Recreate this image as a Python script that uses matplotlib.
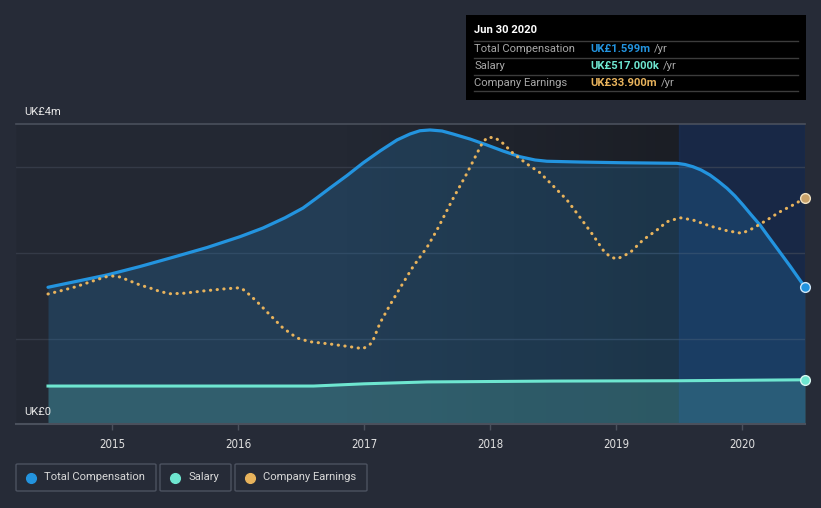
import numpy as np
import matplotlib
matplotlib.use("Agg")
import matplotlib.pyplot as plt
from matplotlib.colors import LinearSegmentedColormap
from matplotlib.patches import Rectangle, FancyBboxPatch

plt.rcParams["font.family"] = ["Roboto", "DejaVu Sans"]

# Total compensation (UK£m)
comp_t = [2014.492, 2014.746, 2014.960, 2015.222, 2015.484, 2015.754, 2016.016, 2016.198,
          2016.373, 2016.516, 2016.619, 2016.730, 2016.865, 2016.992, 2017.127, 2017.262,
          2017.365, 2017.444, 2017.524, 2017.619, 2017.706, 2017.841, 2017.976, 2018.103,
          2018.238, 2018.357, 2018.452, 2018.714, 2019.032, 2019.484, 2019.548, 2019.611,
          2019.675, 2019.746, 2019.810, 2019.881, 2019.944, 2020.008, 2020.071, 2020.143,
          2020.206, 2020.278, 2020.381, 2020.500]
comp_v = [1.599, 1.677, 1.743, 1.842, 1.950, 2.064, 2.191, 2.292,
          2.412, 2.526, 2.637, 2.760, 2.906, 3.053, 3.193, 3.322,
          3.392, 3.430, 3.439, 3.427, 3.392, 3.333, 3.263, 3.193,
          3.126, 3.088, 3.073, 3.064, 3.056, 3.049, 3.035, 3.009,
          2.971, 2.912, 2.842, 2.757, 2.667, 2.561, 2.450, 2.327,
          2.199, 2.055, 1.848, 1.599]

# Salary (UK£m)
sal_t = [2014.492, 2016.600, 2017.000, 2017.500, 2018.500, 2019.500, 2020.500]
sal_v = [0.444, 0.444, 0.470, 0.492, 0.502, 0.506, 0.517]

# Company earnings (UK£m), own scale
earn_t = [2014.492, 2014.587, 2014.706, 2014.825, 2014.944, 2015.000, 2015.063, 2015.143,
          2015.222, 2015.302, 2015.381, 2015.460, 2015.563, 2015.722, 2015.881, 2016.016,
          2016.056, 2016.151, 2016.254, 2016.357, 2016.468, 2016.571, 2016.730, 2016.889,
          2016.992, 2017.063, 2017.127, 2017.206, 2017.286, 2017.389, 2017.500, 2017.579,
          2017.706, 2017.817, 2017.897, 2017.944, 2017.984, 2018.040, 2018.103, 2018.183,
          2018.294, 2018.397, 2018.500, 2018.611, 2018.714, 2018.817, 2018.897, 2018.952,
          2019.008, 2019.111, 2019.214, 2019.325, 2019.405, 2019.508, 2019.611, 2019.746,
          2019.881, 2020.000, 2020.087, 2020.198, 2020.302, 2020.405, 2020.500]
earn_v = [19.50, 19.95, 20.55, 21.30, 22.05, 22.20, 22.05, 21.45,
          20.85, 20.40, 19.87, 19.54, 19.60, 19.95, 20.25, 20.44,
          19.99, 18.34, 16.35, 14.40, 12.90, 12.34, 12.00, 11.59,
          11.29, 12.15, 15.15, 17.85, 20.40, 23.59, 26.50, 29.10,
          33.79, 37.60, 40.60, 42.34, 43.00, 42.94, 42.10, 40.60,
          39.00, 37.69, 35.74, 33.60, 31.00, 28.35, 26.10, 25.09,
          24.75, 25.69, 27.60, 29.10, 30.34, 30.94, 30.60, 29.70,
          28.99, 28.60, 29.35, 30.60, 31.84, 32.85, 33.90]

years = [2015, 2016, 2017, 2018, 2019, 2020]

BG = "#262b37"
BLUE = "#2394df"
TEAL = "#6ee6d0"
ORANGE = "#e8b35c"
FS = 8.1
W, H = 821, 508

fig = plt.figure(figsize=(W / 100, H / 100), dpi=100, facecolor=BG)
ax = fig.add_axes([16 / W, 84 / H, 789 / W, 300 / H])
ax.set_facecolor("#232833")

x0, x1 = 2014.238, 2020.5
ymax = 300 / 85.5

# background gets darker towards the right
bg_cmap = LinearSegmentedColormap.from_list("bg", ["#242934", "#232833", "#1b1e25"])
ax.imshow(np.linspace(0, 1, 256).reshape(1, -1), extent=[x0, 2019.5, 0, ymax],
          cmap=bg_cmap, aspect="auto", zorder=0)
ax.axvspan(2019.5, x1, color="#17233a", zorder=0.5)

for g in [1, 2, 3]:
    ax.axhline(g, color="#343a47", lw=1, zorder=1)

ax.fill_between(comp_t, comp_v, 0, color=BLUE, alpha=0.2, lw=0, zorder=2)
ax.fill_between(sal_t, sal_v, 0, color=TEAL, alpha=0.2, lw=0, zorder=2.1)
ax.axvspan(2019.5, x1, color="#2a6fd6", alpha=0.08, zorder=2.2)

ax.plot(comp_t, comp_v, color=BLUE, lw=2.3, zorder=4, solid_capstyle="round")
ax.plot(sal_t, sal_v, color=TEAL, lw=2.2, zorder=4)
ax.plot(comp_t[-1], comp_v[-1], "o", ms=7, color=BLUE, mec="#cfe6f7", mew=1, zorder=6, clip_on=False)
ax.plot(sal_t[-1], sal_v[-1], "o", ms=7, color=TEAL, mec="#d8f7f1", mew=1, zorder=6, clip_on=False)

ax.set_xlim(x0, x1)
ax.set_ylim(0, ymax)

ax2 = ax.twinx()
ax2.set_ylim(0, 45)
ax2.plot(earn_t, earn_v, color=ORANGE, lw=2.2, linestyle=(0, (0.1, 2.1)),
         dash_capstyle="round", zorder=5)
ax2.plot(earn_t[-1], earn_v[-1], "o", ms=7, color="#c9a26a", mec="#f0e0c0", mew=1,
         zorder=6, clip_on=False)
ax2.set_yticks([])
for a in (ax, ax2):
    for s in a.spines.values():
        s.set_visible(False)
ax2.patch.set_visible(False)

ax.axhline(ymax, color="#4a505c", lw=1.2, zorder=3, clip_on=False)
ax.axhline(0, color="#4a505c", lw=1.5, zorder=3, clip_on=False)

ax.set_yticks([])
ax.set_xticks(years)
ax.set_xticklabels([str(y) for y in years], color="#e0e0e0", fontsize=8.3,
                   family="DejaVu Sans", fontstretch="condensed")
ax.tick_params(axis="x", length=4, color="#4a505c", width=1, pad=6)

fig.text(24 / W, 1 - 112 / H, "UK£4m", color="#e6e6e6", fontsize=FS, va="center")
fig.text(24 / W, 1 - 412 / H, "UK£0", color="#e6e6e6", fontsize=FS, va="center")


def fx(x):
    return x / W


def fy(y):
    return 1 - y / H


# tooltip box
fig.patches.append(Rectangle((fx(466), fy(100)), 340 / W, 85 / H, transform=fig.transFigure,
                             facecolor="black", edgecolor="none", zorder=10))
fig.text(fx(474), fy(30), "Jun 30 2020", color="white", fontsize=FS, fontweight="bold",
         va="center", zorder=11)
for ly in [40.5, 57.5, 74.5, 91]:
    fig.lines.append(plt.Line2D([fx(474), fx(798)], [fy(ly), fy(ly)], transform=fig.transFigure,
                                color="#3c3c3c", lw=1, zorder=11))
rows = [("Total Compensation", "UK£1.599m", BLUE),
        ("Salary", "UK£517.000k", TEAL),
        ("Company Earnings", "UK£33.900m", ORANGE)]
fig.canvas.draw()
r = fig.canvas.get_renderer()
for i, (lab, val, col) in enumerate(rows):
    yy = fy(49 + 17 * i)
    fig.text(fx(474), yy, lab, color="#a8a8a8", fontsize=FS, va="center", zorder=11)
    t = fig.text(fx(590), yy, val, color=col, fontsize=FS, fontweight="bold", va="center", zorder=11)
    bb = t.get_window_extent(renderer=r)
    fig.text(bb.x1 / W + 4 / W, yy, "/yr", color="#a8a8a8", fontsize=FS, va="center", zorder=11)

# legend boxes
legend = [("Total Compensation", BLUE, 16, 156), ("Salary", TEAL, 160, 231),
          ("Company Earnings", ORANGE, 235, 367)]
for lab, col, lx0, lx1 in legend:
    fig.patches.append(FancyBboxPatch((fx(lx0), fy(491)), (lx1 - lx0) / W, 27 / H,
                                      boxstyle="round,pad=0,rounding_size=0.002",
                                      transform=fig.transFigure, facecolor=BG,
                                      edgecolor="#4c5260", lw=1, zorder=10))
    fig.lines.append(plt.Line2D([fx(lx0 + 15)], [fy(477.5)], marker="o", ms=7, color=col,
                                transform=fig.transFigure, zorder=11))
    fig.text(fx(lx0 + 28), fy(477.5), lab, color="#d8d8d8", fontsize=FS, va="center", zorder=11)

fig.savefig("out.png", dpi=100, facecolor=BG)
